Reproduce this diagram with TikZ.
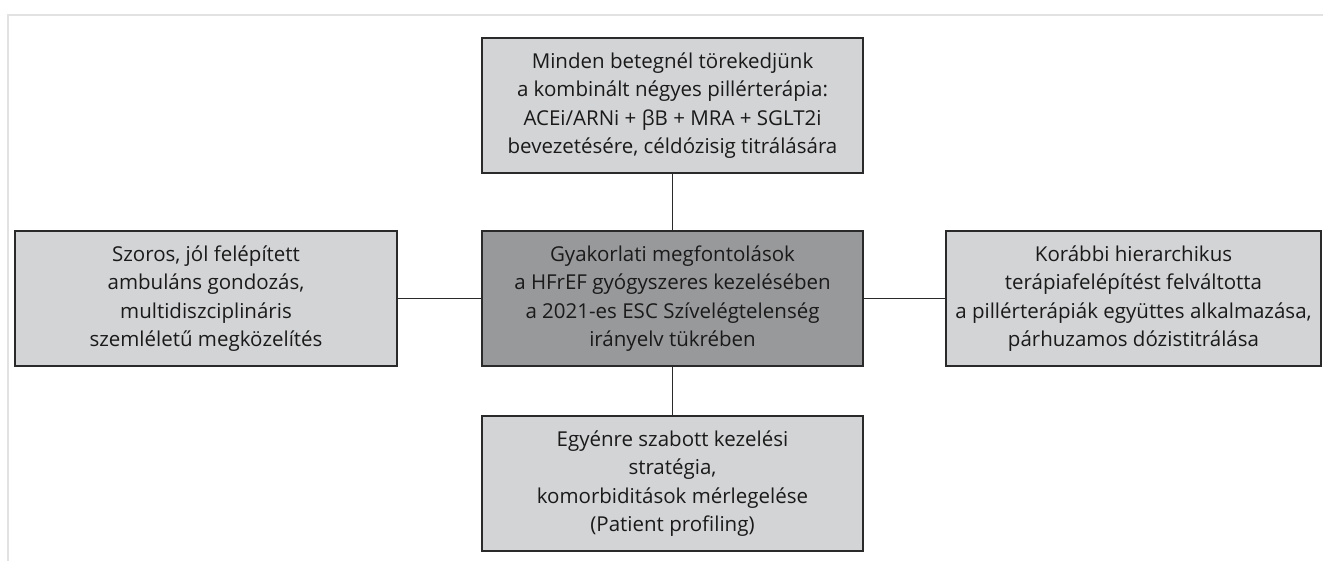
\documentclass[tikz,border=0pt]{standalone}
\usepackage{fontspec}
\setmainfont{Open Sans}
\definecolor{lightfill}{HTML}{D3D4D6}
\definecolor{darkfill}{HTML}{98999B}
\definecolor{boxline}{HTML}{2A2A2A}
\definecolor{framegray}{HTML}{E2E2E2}
\definecolor{txt}{HTML}{1A1A1A}
\begin{document}
\begin{tikzpicture}[x=1pt,y=-1pt,
  box/.style={draw=boxline, line width=1.4pt, fill=lightfill, align=center,
    inner sep=0pt, minimum height=135pt, text=txt,
    font=\fontsize{20.5}{28.5}\selectfont},
  hub/.style={box, fill=darkfill},
  conn/.style={draw=boxline, line width=1.3pt},
  frameline/.style={draw=framegray, line width=2pt}]
\useasboundingbox (0,0) rectangle (1323,561);
\coordinate (fTL) at (8,15);
\coordinate (fTR) at (1323,15);
\coordinate (fBL) at (8,561);
\draw[frameline] (fTR) -- (fTL) -- (fBL);

\node[hub, minimum width=381pt] (c) at (672.5,298.5)
  {Gyakorlati megfontolások\\a HFrEF gyógyszeres kezelésében\\a 2021-es ESC Szívelégtelenség\\irányelv tükrében};
\node[box, minimum width=381pt] (t) at (672.5,105.5)
  {Minden betegnél törekedjünk\\a kombinált négyes pillérterápia:\\ACEi/ARNi + βB + MRA + SGLT2i\\bevezetésére, céldózisig titrálására};
\node[box, minimum width=381pt] (b) at (672.5,483.5)
  {Egyénre szabott kezelési\\stratégia,\\komorbiditások mérlegelése\\(Patient profiling)};
\node[box, minimum width=382pt] (l) at (206,298.5)
  {Szoros, jól felépített\\ambuláns gondozás,\\multidiszciplináris\\szemléletű megközelítés};
\node[box, minimum width=375pt] (r) at (1133.5,298.5)
  {Korábbi hierarchikus\\terápiafelépítést felváltotta\\a pillérterápiák együttes alkalmazása,\\párhuzamos dózistitrálása};

\draw[conn] (c.north) -- (t.south);
\draw[conn] (c.south) -- (b.north);
\draw[conn] (c.west) -- (l.east);
\draw[conn] (c.east) -- (r.west);
\end{tikzpicture}
\end{document}
